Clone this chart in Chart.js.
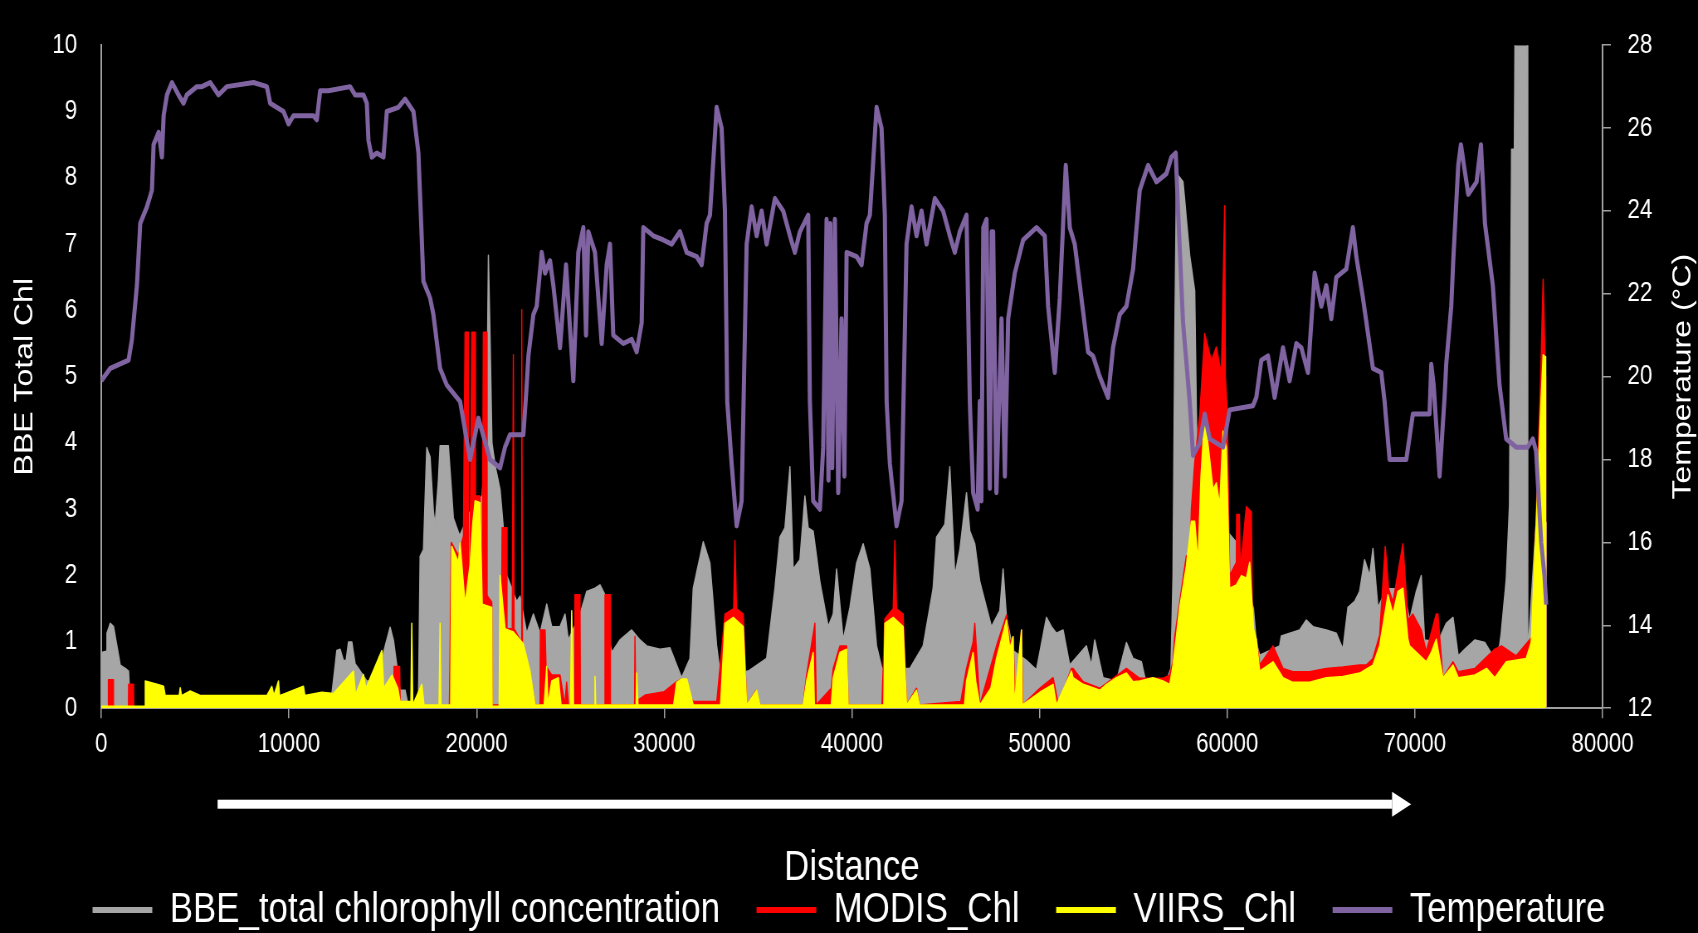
<!DOCTYPE html>
<html>
<head>
<meta charset="utf-8">
<title>BBE chlorophyll, satellite chlorophyll and temperature along the transect</title>
<script src="https://cdn.jsdelivr.net/npm/chart.js@4.4.1/dist/chart.umd.min.js"></script>
<style>
  html, body { margin: 0; padding: 0; background: #000; overflow: hidden; }
  /* the original figure is squeezed sideways, so the chart is laid out wide and scaled back */
  #wrap { width: 2046px; height: 933px; transform: scale(0.8299, 1); transform-origin: 0 0; }
</style>
</head>
<body>
<div id="wrap"><canvas id="chart"></canvas></div>
<script>
// tick labels
const distTicks = [0, 10000, 20000, 30000, 40000, 50000, 60000, 70000, 80000];
const chlTicks = [0, 1, 2, 3, 4, 5, 6, 7, 8, 9, 10];
const tempTicks = [12, 14, 16, 18, 20, 22, 24, 26, 28];

// temperature (°C) along the track, distance in m
const tempDist = [
  0, 480, 1455, 1633, 1900, 2077, 2433, 2700, 2788, 3055,
  3233, 3322, 3500, 3766, 4117, 4383, 4561, 5094, 5361, 5805,
  6248, 6693, 8112, 8823, 9001, 9711, 9977, 10243, 11307, 11485,
  11664, 12107, 13262, 13528, 13971, 14150, 14238, 14416, 14682, 15038,
  15216, 15834, 16191, 16635, 16900, 17167, 17522, 17700, 18055, 18411,
  19121, 19653, 20096, 20718, 21251, 21517, 21783, 22493, 22671, 22760,
  23026, 23203, 23471, 23648, 23914, 24091, 24446, 24766, 25155, 25421,
  25688, 25831, 25954, 26310, 26667, 26933, 27109, 27285, 27818, 28265,
  28531, 28798, 28883, 29416, 29949, 30396, 30838, 31195, 31727, 31993,
  32260, 32435, 32792, 33058, 33234, 33357, 33591, 33857, 34124, 34390,
  34656, 34923, 35189, 35455, 35897, 36340, 36697, 36962, 37229, 37671,
  37761, 37937, 38294, 38470, 38650, 38750, 38850, 38950, 39093, 39270,
  39447, 39600, 39717, 40249, 40515, 40781, 40957, 41314, 41580, 41756,
  41850, 42022, 42379, 42645, 42911, 43177, 43444, 43710, 43976, 44419,
  44861, 45218, 45484, 45750, 46107, 46283, 46459, 46700, 46815, 46900,
  47000, 47172, 47350, 47450, 47525, 47700, 47971, 48150, 48326, 48680,
  49124, 49836, 50277, 50455, 50810, 51076, 51396, 51609, 51875, 52584,
  52850, 53206, 53648, 53915, 54271, 54628, 54983, 55337, 55780, 56228,
  56760, 57026, 57255, 57379, 57645, 58000, 58178, 58534, 58800, 59066,
  59776, 60130, 61373, 61551, 61817, 62171, 62527, 62970, 63326, 63683,
  63950, 64302, 64658, 65014, 65280, 65547, 65814, 66346, 66697, 66878,
  67231, 67764, 68210, 68386, 68652, 69541, 69892, 70781, 70872, 71000,
  71315, 71581, 71670, 71937, 72044, 72310, 72452, 72843, 73285, 73520,
  73733, 74154, 74509, 74865, 75397, 76016, 76283, 76460, 76729, 76906,
  76996
];
const tempC = [
  19.9, 20.2, 20.4, 20.9, 22.2, 23.7, 24.1, 24.5, 25.6, 25.9,
  25.3, 26.3, 26.8, 27.1, 26.8, 26.6, 26.8, 27.0, 27.0, 27.1,
  26.8, 27.0, 27.1, 27.0, 26.6, 26.4, 26.1, 26.3, 26.3, 26.2,
  26.9, 26.9, 27.0, 26.8, 26.8, 26.6, 25.7, 25.3, 25.4, 25.3,
  26.4, 26.5, 26.7, 26.4, 25.4, 22.3, 21.9, 21.5, 20.2, 19.8,
  19.4, 18.0, 19.0, 18.0, 17.8, 18.3, 18.6, 18.6, 19.8, 20.5,
  21.5, 21.7, 23.0, 22.5, 22.8, 22.2, 20.7, 22.7, 19.9, 23.0,
  23.6, 21.0, 23.5, 23.0, 20.8, 22.7, 23.2, 21.0, 20.8, 20.9,
  20.6, 21.3, 23.6, 23.4, 23.3, 23.2, 23.5, 23.0, 22.9, 22.7,
  23.7, 23.9, 26.5, 26.0, 24.0, 19.4, 17.9, 16.4, 17.0, 23.2,
  24.1, 23.4, 24.0, 23.2, 24.3, 24.0, 23.4, 23.0, 23.5, 23.9,
  19.4, 17.0, 16.8, 18.3, 23.8, 17.5, 23.7, 17.8, 23.8, 17.2,
  21.4, 17.6, 23.0, 22.9, 22.7, 23.7, 23.9, 26.5, 26.0, 23.9,
  19.4, 17.9, 16.4, 17.0, 23.2, 24.1, 23.4, 24.0, 23.2, 24.3,
  24.0, 23.4, 23.0, 23.5, 23.9, 19.4, 17.2, 16.8, 19.4, 17.0,
  23.6, 23.8, 17.3, 23.5, 23.5, 17.2, 21.4, 17.6, 21.4, 22.5,
  23.3, 23.6, 23.4, 21.7, 20.1, 21.9, 25.1, 23.6, 23.2, 20.6,
  20.5, 20.0, 19.5, 20.7, 21.5, 21.7, 22.6, 24.5, 25.1, 24.7,
  24.9, 25.3, 25.4, 24.0, 21.3, 19.4, 18.1, 18.4, 19.1, 18.5,
  18.3, 19.2, 19.3, 19.5, 20.4, 20.5, 19.5, 20.7, 19.9, 20.8,
  20.7, 20.1, 22.5, 21.7, 22.2, 21.4, 22.4, 22.6, 23.6, 22.9,
  21.9, 20.2, 20.1, 19.4, 18.0, 18.0, 19.1, 19.1, 20.3, 19.8,
  17.6, 19.5, 20.3, 21.7, 22.8, 25.1, 25.6, 24.4, 24.7, 25.6,
  23.7, 22.2, 19.8, 18.5, 18.3, 18.3, 18.5, 18.2, 16.0, 15.2,
  14.5
];

// BBE total chlorophyll
const bbeDist = [
  0, 270, 303, 480, 655, 835, 1012, 1278, 1455, 1545,
  12200, 12285, 12551, 12728, 12906, 13050, 13174, 13352, 13528, 13706,
  14150, 14859, 15038, 15393, 15572, 15749, 15925, 16191, 16370, 16900,
  16990, 17167, 17346, 17522, 17700, 17790, 17966, 18055, 18497, 18763,
  19100, 19700, 20300, 20550, 20630, 20700, 20820, 21000, 21251, 21427,
  21606, 21872, 22139, 22316, 22671, 23026, 23381, 23737, 24004, 24446,
  24713, 24889, 25512, 25868, 26310, 26577, 26843, 27019, 27200, 27641,
  28265, 28708, 29064, 29772, 30305, 30662, 30928, 31369, 31546, 32079,
  32435, 32792, 32968, 33500, 34476, 35455, 35897, 36163, 36430, 36697,
  36871, 37229, 37495, 37671, 37937, 38294, 38737, 39004, 39182, 39536,
  39893, 40249, 40600, 40957, 41314, 41600, 43088, 43796, 44329, 44507,
  44950, 45218, 45484, 45750, 46107, 46283, 46549, 46815, 47438, 47880,
  48056, 48237, 48589, 49300, 49836, 50367, 50633, 50899, 51253, 51609,
  52496, 52762, 52940, 53383, 54097, 54628, 54983, 55426, 55695, 56760,
  57000, 57111, 57200, 57300, 57379, 57645, 58000, 58267, 58350, 58450,
  59000, 60500, 61400, 61551, 61729, 62793, 62883, 63860, 64215, 64568,
  65280, 65814, 66164, 66432, 66790, 67055, 67320, 67588, 67764, 68030,
  68500, 69400, 69718, 70074, 70340, 70518, 71229, 71670, 72031, 72310,
  72665, 73200, 73733, 74154, 74509, 74598, 74865, 75041, 75150, 75300,
  75340, 76005, 76016, 76460, 76996, 77000
];
const bbeChl = [
  0.84, 0.86, 1.13, 1.28, 1.23, 0.94, 0.65, 0.6, 0.56, 0.02,
  0.02, 0.2, 0.87, 0.89, 0.72, 0.72, 1.0, 1.0, 0.67, 0.6,
  0.41, 0.41, 0.84, 1.22, 1.02, 0.65, 0.27, 0.27, 0.02, 0.02,
  2.29, 2.39, 3.93, 3.79, 2.96, 2.77, 3.45, 3.96, 3.96, 2.87,
  2.6, 3.0, 3.2, 4.6, 6.83, 5.86, 4.0, 3.64, 3.3, 2.72,
  2.0, 1.81, 1.61, 1.69, 1.13, 1.42, 1.13, 1.57, 1.23, 1.23,
  1.42, 1.03, 1.42, 1.76, 1.81, 1.86, 1.71, 1.13, 0.84, 1.03,
  1.18, 1.03, 0.94, 0.89, 0.91, 0.65, 0.46, 0.75, 1.81, 2.51,
  2.19, 0.94, 0.56, 0.5, 0.56, 0.75, 1.81, 2.58, 2.72, 3.64,
  2.1, 2.24, 3.2, 2.72, 2.67, 1.91, 1.23, 1.42, 2.1, 1.03,
  1.52, 2.19, 2.48, 2.1, 0.94, 0.6, 0.6, 0.94, 1.81, 2.58,
  2.77, 3.64, 2.0, 2.39, 3.25, 2.67, 2.48, 1.91, 1.23, 1.47,
  2.1, 1.37, 0.87, 0.72, 0.58, 1.37, 1.23, 1.13, 1.18, 0.65,
  0.94, 0.65, 1.03, 0.46, 0.41, 0.99, 0.75, 0.7, 0.36, 0.41,
  0.6, 2.0, 5.5, 8.2, 8.04, 7.94, 6.83, 6.3, 4.6, 3.0,
  3.0, 2.5, 1.5, 0.99, 0.8, 0.94, 1.09, 1.18, 1.33, 1.23,
  1.18, 1.13, 0.89, 1.52, 1.61, 1.76, 2.24, 2.0, 2.41, 1.52,
  1.8, 1.8, 1.33, 1.76, 2.0, 1.03, 1.0, 1.28, 1.37, 0.79,
  0.89, 1.03, 0.99, 0.79, 0.94, 1.13, 1.94, 3.06, 8.43, 8.43,
  10.5, 10.5, 0.8, 2.8, 2.8, 0
];

// MODIS chlorophyll
const modisDist = [
  0, 373, 380, 640, 650, 1450, 1460, 1720, 1730, 12900,
  13000, 13100, 15570, 15600, 15900, 15930, 18550, 18588, 18650, 19032,
  19300, 19387, 19547, 19560, 19653, 19743, 19920, 19940, 20186, 20300,
  20361, 20540, 20560, 20810, 20830, 21300, 21360, 21600, 21620, 21900,
  21960, 22000, 22380, 22406, 22440, 22800, 23115, 23380, 23400, 23650,
  23700, 24004, 24446, 24700, 24800, 24900, 25220, 25240, 25510, 25530,
  26820, 26843, 27109, 27130, 28420, 28440, 28480, 29000, 30000, 30662,
  30928, 31300, 31546, 32800, 33100, 33234, 33700, 33767, 33850, 34210,
  34390, 34900, 35100, 37400, 37586, 38028, 38100, 38900, 39004, 39359,
  39717, 39800, 41600, 41756, 42200, 42290, 42380, 42730, 42911, 43444,
  43600, 45800, 46107, 46459, 46549, 46815, 47704, 48237, 48414, 48589,
  48700, 49036, 49100, 50011, 50721, 51000, 51699, 51786, 52318, 53206,
  54628, 55337, 56579, 56936, 57111, 57202, 57467, 57823, 58000, 58089,
  58267, 58534, 58800, 59155, 59421, 59687, 59864, 59900, 60000, 60130,
  60486, 60500, 60650, 60700, 61020, 61286, 61350, 61551, 61729, 62439,
  62970, 63503, 64391, 65280, 66164, 67055, 67409, 67764, 68120, 68420,
  68600, 68830, 69362, 69630, 69892, 70340, 70605, 71138, 71229, 71494,
  72031, 72310, 73200, 74260, 74614, 75397, 76283, 76460, 76700, 76834,
  76960, 76970
];
const modisChl = [
  0.02, 0.02, 0.43, 0.43, 0.02, 0.02, 0.36, 0.36, 0.02, 0.02,
  0.2, 0.02, 0.02, 0.63, 0.63, 0.02, 0.02, 0.79, 2.5, 2.3,
  2.6, 5.67, 5.67, 1.7, 2.3, 5.67, 5.67, 3.2, 3.2, 1.7,
  5.67, 5.67, 1.7, 1.6, 0.05, 0.05, 2.72, 2.72, 1.2, 1.2,
  5.33, 1.2, 1.0, 6.01, 1.0, 0.6, 0.05, 0.05, 1.18, 1.18,
  0.63, 0.5, 0.5, 0.05, 0.39, 0.05, 0.05, 1.71, 1.71, 0.05,
  0.05, 1.71, 1.71, 0.05, 0.05, 1.08, 0.1, 0.2, 0.25, 0.4,
  0.44, 0.2, 0.1, 0.1, 1.0, 1.42, 1.5, 2.53, 1.5, 1.42,
  0.05, 0.27, 0.05, 0.05, 0.5, 1.28, 0.05, 0.3, 0.6, 0.94,
  0.94, 0.05, 0.05, 1.35, 1.5, 2.53, 1.5, 1.42, 0.05, 0.3,
  0.05, 0.1, 0.6, 1.0, 1.28, 0.05, 0.94, 1.4, 1.0, 1.08,
  0.05, 1.18, 0.05, 0.3, 0.46, 0.05, 0.6, 0.6, 0.4, 0.3,
  0.6, 0.45, 0.45, 0.5, 0.7, 1.08, 1.6, 2.3, 2.15, 3.0,
  3.7, 4.42, 5.65, 5.24, 5.45, 5.04, 7.58, 5.0, 4.5, 2.0,
  2.2, 2.92, 2.92, 2.1, 3.04, 2.96, 1.0, 1.05, 0.65, 0.94,
  0.6, 0.55, 0.55, 0.6, 0.62, 0.65, 0.65, 0.75, 1.1, 2.44,
  1.8, 1.6, 2.48, 1.33, 1.42, 1.18, 0.85, 1.42, 1.42, 0.46,
  0.7, 0.55, 0.6, 0.89, 0.94, 0.79, 1.09, 2.87, 5.0, 6.47,
  5.0, 0.02
];

// VIIRS chlorophyll
const viirsDist = [
  0, 2300, 2343, 2966, 3322, 3408, 4150, 4207, 4280, 4740,
  5300, 8823, 9090, 9200, 9443, 9500, 10775, 10850, 11752, 12373,
  13440, 13550, 13971, 14100, 14950, 15050, 15500, 15800, 15925, 16500,
  16546, 16600, 17080, 17200, 18000, 18055, 18100, 18620, 18677, 19032,
  19121, 19387, 19653, 19800, 19920, 20186, 20300, 20810, 20830, 21200,
  21251, 21517, 21960, 22493, 22848, 23115, 23600, 23737, 23800, 24004,
  24357, 24500, 25000, 25069, 25150, 26280, 26310, 26350, 28500, 28531,
  28600, 30500, 30662, 30928, 31200, 31546, 33000, 33234, 33677, 34210,
  34390, 34923, 35100, 37400, 37586, 37937, 38000, 38900, 39004, 39359,
  39717, 39800, 41700, 41756, 42200, 42730, 42911, 43444, 43600, 46000,
  46107, 46459, 46600, 46815, 47400, 47704, 48237, 48414, 48589, 48650,
  49036, 49080, 50011, 50721, 50900, 51699, 51786, 52318, 52850, 53206,
  53563, 54097, 54628, 54983, 55337, 56045, 56579, 56936, 57111, 57467,
  57823, 58089, 58267, 58444, 58600, 58800, 58976, 59244, 59421, 59599,
  59776, 59954, 60130, 60486, 60754, 61020, 61196, 61400, 61551, 61729,
  62439, 62970, 63503, 64391, 65280, 66164, 67055, 67764, 68120, 68563,
  68830, 69096, 69362, 69630, 69718, 70428, 70605, 70872, 71138, 71494,
  72031, 72310, 73200, 73820, 74260, 74865, 75930, 76194, 76460, 76700,
  76834, 76960, 76970
];
const viirsChl = [
  0.03, 0.03, 0.41, 0.36, 0.33, 0.19, 0.19, 0.31, 0.19, 0.26,
  0.19, 0.19, 0.33, 0.19, 0.41, 0.19, 0.33, 0.19, 0.24, 0.22,
  0.56, 0.2, 0.51, 0.3, 0.87, 0.3, 0.5, 0.3, 0.1, 0.1,
  1.28, 0.05, 0.36, 0.05, 0.05, 1.28, 0.05, 0.05, 2.44, 2.2,
  2.49, 1.57, 2.17, 2.8, 3.13, 3.1, 1.57, 1.52, 0.03, 0.03,
  2.0, 1.2, 1.15, 0.97, 0.56, 0.05, 0.05, 0.63, 0.05, 0.41,
  0.46, 0.05, 0.05, 1.47, 0.05, 0.05, 0.48, 0.05, 0.05, 0.53,
  0.05, 0.05, 0.39, 0.44, 0.44, 0.05, 0.05, 1.28, 1.37, 1.23,
  0.05, 0.27, 0.05, 0.05, 0.41, 0.84, 0.05, 0.05, 0.46, 0.84,
  0.89, 0.05, 0.05, 1.28, 1.37, 1.23, 0.05, 0.27, 0.05, 0.05,
  0.41, 0.84, 0.4, 0.05, 0.3, 0.75, 1.33, 0.9, 1.08, 0.05,
  1.18, 0.05, 0.24, 0.36, 0.05, 0.56, 0.46, 0.36, 0.31, 0.27,
  0.36, 0.46, 0.53, 0.4, 0.41, 0.46, 0.41, 0.36, 0.65, 1.52,
  2.15, 2.82, 2.82, 2.2, 3.5, 4.42, 3.98, 3.3, 3.4, 3.06,
  4.18, 3.93, 1.81, 1.86, 2.0, 1.96, 2.2, 1.2, 1.04, 0.56,
  0.7, 0.46, 0.39, 0.39, 0.46, 0.48, 0.53, 0.65, 0.94, 1.71,
  1.42, 1.76, 1.81, 1.04, 0.94, 0.75, 0.7, 0.84, 1.04, 0.46,
  0.65, 0.46, 0.5, 0.6, 0.46, 0.7, 0.75, 0.99, 2.77, 4.5,
  5.33, 5.3, 0.02
];

const GREY = '#a6a6a6';
const RED = '#ff0000';
const YELLOW = '#ffff00';
const PURPLE = '#8064a2';
const AXIS = '#a0a0a0';
const FONT = '"Liberation Sans", Arial, sans-serif';

Chart.defaults.font.family = FONT;
Chart.defaults.color = '#fff';

const pts = (xs, ys) => xs.map((x, i) => ({ x: x, y: ys[i] }));
const useTicks = (list) => (axis) => { axis.ticks = list.map(v => ({ value: v })); };

// white arrow under the distance axis, direction of travel
const arrowSpan = [6200, 69800];
const travelArrow = {
  id: 'travelArrow',
  afterDraw(chart) {
    const { ctx, chartArea, scales } = chart;
    const x0 = scales.x.getPixelForValue(arrowSpan[0]);
    const x1 = scales.x.getPixelForValue(arrowSpan[1]);
    const y = chartArea.bottom + 96;
    ctx.save();
    ctx.fillStyle = '#fff';
    ctx.fillRect(x0, y - 4.5, x1 - 23 - x0, 9);
    ctx.beginPath();
    ctx.moveTo(x1 - 23, y - 12.5);
    ctx.lineTo(x1, y);
    ctx.lineTo(x1 - 23, y + 12.5);
    ctx.closePath();
    ctx.fill();
    ctx.restore();
  }
};

// right axis title reads bottom to top, like the left one
const rightTitle = {
  id: 'rightTitle',
  afterDraw(chart) {
    const { ctx, chartArea } = chart;
    ctx.save();
    ctx.translate(chart.width - 18, (chartArea.top + chartArea.bottom) / 2);
    ctx.rotate(-Math.PI / 2);
    ctx.font = '32px ' + FONT;
    ctx.fillStyle = '#fff';
    ctx.textAlign = 'center';
    ctx.textBaseline = 'middle';
    ctx.fillText('Temperature (°C)', 0, 0);
    ctx.restore();
  }
};

new Chart(document.getElementById('chart'), {
  type: 'line',
  data: {
    datasets: [
      {
        label: 'BBE_total chlorophyll concentration',
        data: pts(bbeDist, bbeChl),
        yAxisID: 'y',
        borderColor: GREY,
        backgroundColor: GREY,
        borderWidth: 1.5,
        fill: 'origin',
        order: 3
      },
      {
        label: 'MODIS_Chl',
        data: pts(modisDist, modisChl),
        yAxisID: 'y',
        borderColor: RED,
        backgroundColor: RED,
        borderWidth: 1.5,
        fill: 'origin',
        order: 2
      },
      {
        label: 'VIIRS_Chl',
        data: pts(viirsDist, viirsChl),
        yAxisID: 'y',
        borderColor: YELLOW,
        backgroundColor: YELLOW,
        borderWidth: 1.5,
        fill: 'origin',
        order: 1
      },
      {
        label: 'Temperature',
        data: pts(tempDist, tempC),
        yAxisID: 'y1',
        borderColor: PURPLE,
        backgroundColor: PURPLE,
        borderWidth: 5,
        fill: false,
        order: 0
      }
    ]
  },
  options: {
    responsive: true,
    maintainAspectRatio: false,
    animation: false,
    elements: {
      point: { radius: 0 },
      line: { tension: 0, borderJoinStyle: 'round' }
    },
    layout: { padding: { top: 28, right: 0, bottom: -8, left: 0 } },
    scales: {
      x: {
        type: 'linear',
        min: 0,
        max: 80000,
        afterBuildTicks: useTicks(distTicks),
        ticks: {
          callback: v => String(v),
          font: { size: 27 },
          padding: 10,
          maxRotation: 0,
          autoSkip: false
        },
        grid: { drawOnChartArea: false, tickLength: 10, color: AXIS, lineWidth: 1.5 },
        border: { color: AXIS, width: 2 },
        title: {
          display: true,
          text: 'Distance',
          font: { size: 42 },
          padding: { top: 73, bottom: -49 }
        }
      },
      y: {
        position: 'left',
        min: 0,
        max: 10,
        afterBuildTicks: useTicks(chlTicks),
        afterFit: s => { s.width = 122; },
        ticks: { font: { size: 27 }, padding: 29 },
        grid: { display: false, drawTicks: false },
        border: { display: true, color: AXIS, width: 2 },
        title: {
          display: true,
          text: 'BBE Total Chl',
          font: { size: 32 },
          padding: { top: 11, bottom: 0 }
        }
      },
      y1: {
        position: 'right',
        min: 12,
        max: 28,
        afterBuildTicks: useTicks(tempTicks),
        afterFit: s => { s.width = 115; },
        ticks: { font: { size: 27 }, padding: 20 },
        grid: { drawOnChartArea: false, tickLength: 10, color: AXIS, lineWidth: 1.5 },
        border: { display: true, color: AXIS, width: 2 }
      }
    },
    plugins: {
      tooltip: { enabled: false },
      legend: {
        position: 'bottom',
        labels: {
          font: { size: 42 },
          boxWidth: 72,
          boxHeight: 6,
          padding: 44,
          sort: (a, b) => a.datasetIndex - b.datasetIndex,
          generateLabels: chart =>
            Chart.defaults.plugins.legend.labels.generateLabels(chart)
              .map(item => Object.assign(item, { lineWidth: 0 }))
        }
      }
    }
  },
  plugins: [travelArrow, rightTitle]
});
</script>
</body>
</html>
